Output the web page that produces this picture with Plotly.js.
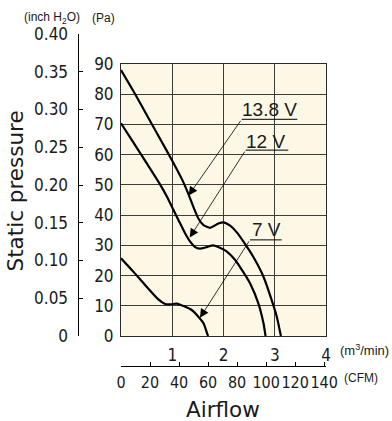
<!DOCTYPE html>
<html><head><meta charset="utf-8">
<script src="https://cdn.plot.ly/plotly-3.0.1.min.js"></script>
<style>html,body{margin:0;padding:0;background:#fff}#chart{width:392px;height:421px}</style>
</head><body><div id="chart"></div>
<script>
// Airflow (m3/min) and static pressure (Pa)
const flow138 = [0, 0.25, 0.5, 0.75, 1.0, 1.2, 1.31, 1.41, 1.51, 1.61, 1.74, 1.9, 2.0, 2.13, 2.26, 2.39, 2.58, 2.78, 2.94, 3.04, 3.12];
const pres138 = [88, 80.8, 73.2, 65.6, 58, 51.5, 47.2, 42.8, 38.9, 36.7, 35.8, 37.2, 37.6, 36.5, 34.3, 31.2, 26.2, 19.6, 11.9, 6.4, 0];
const flow12 = [0, 0.25, 0.5, 0.75, 0.9, 1.0, 1.12, 1.25, 1.35, 1.44, 1.54, 1.67, 1.8, 1.93, 2.06, 2.22, 2.32, 2.52, 2.68, 2.78, 2.82];
const pres12 = [70.4, 63.8, 57.2, 50.5, 46, 42.5, 38.4, 34, 31.2, 29.5, 28.9, 29.4, 30, 29.2, 28, 25.3, 22.9, 17.4, 10.8, 4.2, 0];
const flow7 = [0, 0.24, 0.5, 0.73, 0.86, 0.96, 1.09, 1.22, 1.38, 1.51, 1.61, 1.68, 1.7];
const pres7 = [25.7, 21.3, 16.3, 12.1, 10.6, 10.5, 10.7, 9.9, 8.6, 6.4, 4.2, 0.9, 0];
const curveNames = ['13.8 V', '12 V', '7 V'];
const paTicks = [0, 10, 20, 30, 40, 50, 60, 70, 80, 90];
const inchTicks = [0, 0.05, 0.10, 0.15, 0.20, 0.25, 0.30, 0.35, 0.40];
const inchLabels = ['0', '0.05', '0.10', '0.15', '0.20', '0.25', '0.30', '0.35', '0.40'];
const m3Ticks = [1, 2, 3, 4];
const cfmTicks = [0, 20, 40, 60, 80, 100, 120, 140];
const CFM_PER_M3MIN = 35.3147;

const W = 392, H = 421;
const fx = p => p / W, fy = p => 1 - p / H;
const narrow = '"DejaVu Sans Condensed", "Liberation Sans Narrow", sans-serif';
const sans = '"Liberation Sans", Arial, sans-serif';
const wide = '"DejaVu Sans", sans-serif';
const ink = '#1a1a1a';
const curveStyle = {color: '#000', width: 2.2, shape: 'spline', smoothing: 0.6};

const traces = [
  {x: flow138, y: pres138, name: curveNames[0], mode: 'lines', line: curveStyle, hoverinfo: 'skip'},
  {x: flow12, y: pres12, name: curveNames[1], mode: 'lines', line: curveStyle, hoverinfo: 'skip'},
  {x: flow7, y: pres7, name: curveNames[2], mode: 'lines', line: curveStyle, hoverinfo: 'skip'},
  {x: [], y: [], xaxis: 'x2', yaxis: 'y', mode: 'lines', hoverinfo: 'skip'},
  {x: [], y: [], xaxis: 'x3', yaxis: 'y2', mode: 'lines', hoverinfo: 'skip'}
];

const xDom = [fx(121), fx(326)];
const gridC = '#3c3c3c';

function arrow(hx, hy, tx, ty) {
  return {x: hx, y: hy, ax: tx, ay: ty, xref: 'x', yref: 'y', axref: 'x', ayref: 'y',
    text: '', showarrow: true, arrowhead: 2, arrowsize: 2.2, arrowwidth: 0.8, arrowcolor: '#000',
    standoff: 0, startstandoff: 0};
}
function lbl(text, x, y) {
  return {x: x, y: y, xref: 'x', yref: 'y', text: text, showarrow: false,
    xanchor: 'center', yanchor: 'middle', font: {family: sans, size: 19, color: ink}};
}
function ptext(text, px, py, size, fam, xa, extra) {
  return Object.assign({x: fx(px), y: fy(py), xref: 'paper', yref: 'paper', text: text, showarrow: false,
    xanchor: xa || 'center', yanchor: 'middle', font: {family: fam, size: size, color: ink}}, extra || {});
}

const layout = {
  width: W, height: H,
  margin: {l: 0, r: 0, t: 0, b: 0},
  paper_bgcolor: '#ffffff',
  plot_bgcolor: 'rgba(0,0,0,0)',
  showlegend: false,
  xaxis: {domain: xDom, range: [0, 4], anchor: 'y', tickvals: m3Ticks, ticks: '',
    showgrid: true, gridcolor: gridC, gridwidth: 1, showline: true, mirror: true,
    linecolor: '#2a2a2a', linewidth: 1, zeroline: false, ticklabelstandoff: 4, tickangle: 0,
    tickfont: {family: narrow, size: 17, color: ink}, fixedrange: true},
  yaxis: {domain: [fy(336), fy(64)], range: [0, 90], anchor: 'x', tickvals: paTicks, ticks: '',
    showgrid: true, gridcolor: gridC, gridwidth: 1, showline: true, mirror: true,
    linecolor: '#2a2a2a', linewidth: 1, zeroline: false, ticklabelstandoff: 3,
    tickfont: {family: narrow, size: 17, color: ink}, fixedrange: true},
  xaxis2: {overlaying: 'x', anchor: 'free', position: fy(366), side: 'bottom',
    range: [0, 4 * CFM_PER_M3MIN], tickvals: cfmTicks, ticks: 'inside', ticklen: 4,
    tickcolor: '#000', tickwidth: 1, showline: true, linecolor: '#000', linewidth: 1,
    showgrid: false, zeroline: false, ticklabelstandoff: 2, tickangle: 0,
    tickfont: {family: narrow, size: 16, color: ink}, fixedrange: true},
  xaxis3: {domain: xDom, range: [0, 4], anchor: 'y2', visible: false, fixedrange: true},
  yaxis2: {domain: [fy(336), fy(34)], range: [0, 0.40], anchor: 'free', position: fx(77.5),
    side: 'left', tickvals: inchTicks, ticktext: inchLabels, ticks: 'inside', ticklen: 4,
    tickcolor: '#000', tickwidth: 1, showline: true, linecolor: '#000', linewidth: 1,
    showgrid: false, zeroline: false, ticklabelstandoff: 6,
    tickfont: {family: narrow, size: 17, color: ink}, fixedrange: true},
  shapes: [
    {type: 'rect', xref: 'x domain', yref: 'y domain', x0: 0, x1: 1, y0: 0, y1: 1,
      fillcolor: '#fcf8e5', line: {width: 0}, layer: 'below'},
    {type: 'line', xref: 'x', yref: 'y', x0: 2.355, x1: 3.44, y0: 71.7, y1: 71.7, line: {color: '#000', width: 1}},
    {type: 'line', xref: 'x', yref: 'y', x0: 2.433, x1: 3.264, y0: 61.5, y1: 61.5, line: {color: '#000', width: 1}},
    {type: 'line', xref: 'x', yref: 'y', x0: 2.517, x1: 3.136, y0: 31.8, y1: 31.8, line: {color: '#000', width: 1}}
  ],
  annotations: [
    arrow(1.32, 46.5, 2.355, 71.7),
    arrow(1.34, 32.6, 2.433, 61.5),
    arrow(1.54, 6.0, 2.517, 31.8),
    lbl(curveNames[0], 2.888, 74.8),
    lbl(curveNames[1], 2.81, 64.4),
    lbl(curveNames[2], 2.83, 35.1),
    ptext('(inch H<sub>2</sub>O)', 52, 18, 12, sans),
    ptext('(Pa)', 103.5, 18, 12, sans),
    ptext('(m<sup>3</sup>/min)', 338, 350, 13, sans, 'left'),
    ptext('(CFM)', 341.5, 378, 12, sans, 'left'),
    ptext('Airflow', 223, 409, 21.5, wide),
    ptext('Static pressure', 15, 191.5, 21.5, wide, 'center', {textangle: -90})
  ]
};

Plotly.newPlot('chart', traces, layout, {displayModeBar: false, staticPlot: true});
</script>
</body></html>
